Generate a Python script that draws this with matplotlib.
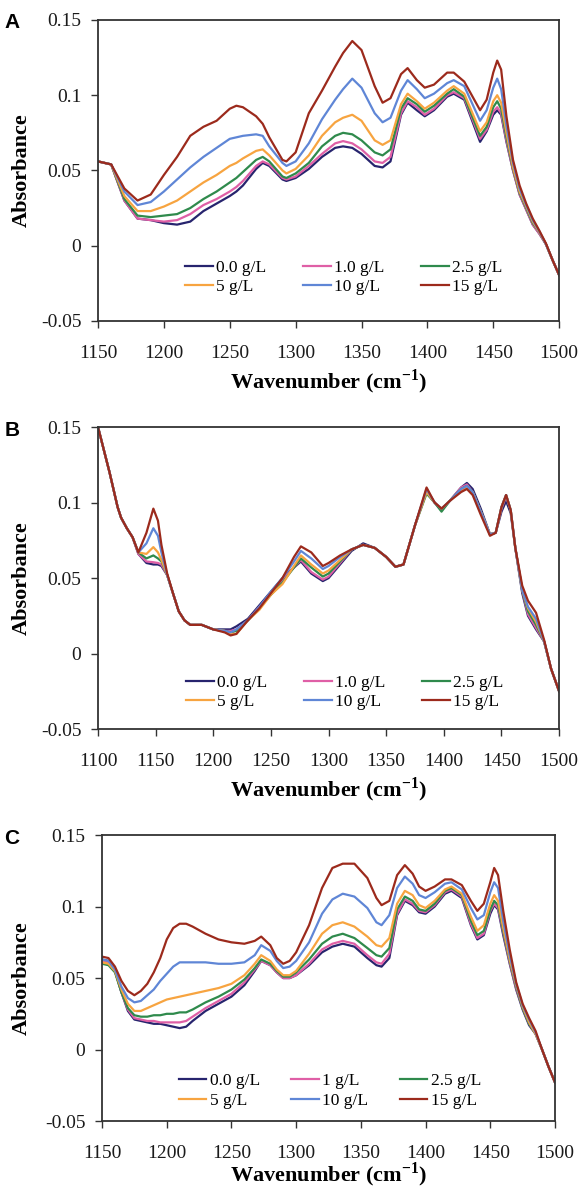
import numpy as np
import matplotlib
matplotlib.use('Agg')
import matplotlib.pyplot as plt

plt.rcParams['font.family'] = 'Liberation Serif'
plt.rcParams['mathtext.fontset'] = 'custom'
plt.rcParams['mathtext.rm'] = 'Liberation Serif:bold'
plt.rcParams['mathtext.bf'] = 'Liberation Serif:bold'

COLORS = ['#27246e', '#df5fa6', '#2f8a4c', '#f7a440', '#5f86d6', '#9c2a1c']

# ---- panel A ----
labels_a = ['0.0 g/L', '1.0 g/L', '2.5 g/L', '5 g/L', '10 g/L', '15 g/L']
wn_a = [1150, 1160, 1170, 1180, 1190, 1200, 1210, 1220, 1230, 1240, 1250, 1255, 1260, 1270, 1275,
        1280, 1290, 1293, 1300, 1310, 1320, 1330, 1336, 1343, 1350, 1360, 1366, 1372, 1380, 1385,
        1392, 1398, 1405, 1415, 1420, 1428, 1440, 1445, 1450, 1453, 1456, 1460, 1465, 1470, 1475,
        1480, 1485, 1490, 1495, 1500]
a_00 = [.056, .054, .030, .018, .017, .015, .014, .016, .023, .028, .033, .036, .040, .051, .055,
        .053, .044, .043, .045, .051, .059, .065, .066, .065, .061, .053, .052, .056, .087, .095,
        .090, .086, .090, .099, .101, .097, .069, .076, .087, .090, .087, .069, .050, .034, .024,
        .014, .008, .001, -.0095, -.0195]
a_10 = [.056, .054, .030, .018, .017, .016, .017, .021, .027, .031, .036, .039, .043, .053, .056,
        .054, .045, .044, .046, .053, .061, .068, .0695, .068, .064, .056, .055, .059, .088, .096,
        .092, .087, .091, .100, .102, .098, .071, .077, .089, .092, .088, .070, .050, .034, .024,
        .014, .008, .001, -.0095, -.0195]
a_25 = [.056, .054, .031, .020, .019, .020, .021, .025, .031, .036, .042, .045, .049, .057, .059,
        .056, .046, .045, .048, .055, .066, .073, .075, .074, .070, .062, .060, .064, .091, .098,
        .094, .089, .093, .101, .104, .099, .073, .079, .092, .096, .091, .072, .051, .035, .025,
        .015, .009, .001, -.0095, -.0195]
a_5 = [.056, .054, .033, .023, .023, .026, .030, .036, .042, .047, .053, .055, .058, .063, .064,
       .060, .050, .048, .051, .060, .073, .082, .085, .087, .083, .070, .067, .070, .094, .101,
       .096, .091, .095, .103, .106, .101, .076, .082, .096, .100, .095, .075, .052, .036, .026,
       .016, .009, .001, -.0095, -.0195]
a_10g = [.056, .054, .036, .027, .029, .036, .044, .052, .059, .065, .071, .072, .073, .074, .073,
         .066, .055, .053, .056, .068, .084, .097, .104, .111, .105, .088, .082, .085, .103, .110,
         .104, .098, .101, .108, .110, .106, .083, .090, .105, .111, .104, .080, .055, .038, .027,
         .017, .0095, .001, -.0095, -.0195]
a_15 = [.056, .054, .038, .030, .034, .047, .059, .073, .079, .083, .091, .093, .092, .086, .081,
        .072, .057, .056, .062, .088, .103, .119, .128, .136, .130, .106, .095, .098, .114, .118,
        .110, .105, .107, .115, .115, .109, .090, .097, .115, .123, .117, .086, .057, .040, .028,
        .018, .010, .0015, -.0095, -.0195]

# ---- panel B ----
labels_b = ['0.0 g/L', '1.0 g/L', '2.5 g/L', '5 g/L', '10 g/L', '15 g/L']
wn_b = [1100, 1105, 1110, 1117, 1120, 1125, 1130, 1135, 1142, 1148, 1152, 1155, 1160, 1165, 1170,
        1175, 1180, 1190, 1200, 1210, 1215, 1220, 1230, 1240, 1250, 1260, 1270, 1276, 1285, 1295,
        1300, 1310, 1320, 1330, 1340, 1350, 1358, 1365, 1375, 1385, 1392, 1398, 1405, 1415, 1420,
        1425, 1432, 1440, 1445, 1450, 1454, 1458, 1462, 1468, 1473, 1480, 1487, 1493, 1500]
b_00 = [.150, .135, .120, .097, .090, .083, .077, .066, .060, .059, .059, .058, .052, .040, .028,
        .022, .019, .019, .016, .016, .016, .018, .023, .032, .041, .050, .057, .061, .053, .048,
        .050, .059, .068, .073, .070, .064, .0575, .059, .085, .108, .100, .095, .101, .110, .113,
        .109, .096, .079, .080, .094, .101, .093, .070, .040, .025, .016, .008, -.010, -.025]
b_10 = [.150, .135, .120, .097, .090, .083, .077, .066, .061, .0605, .060, .059, .052, .040, .028,
        .022, .019, .019, .016, .015, .015, .016, .022, .031, .039, .049, .057, .062, .054, .049,
        .051, .060, .069, .072, .070, .064, .0575, .059, .085, .107, .100, .096, .101, .110, .112,
        .107, .094, .079, .080, .096, .104, .095, .070, .042, .026, .017, .008, -.010, -.025]
b_25 = [.150, .135, .120, .097, .090, .083, .077, .067, .063, .065, .063, .061, .052, .040, .028,
        .022, .019, .019, .016, .015, .014, .015, .022, .030, .039, .047, .057, .063, .057, .051,
        .053, .061, .069, .072, .070, .064, .0575, .059, .085, .106, .100, .094, .101, .109, .111,
        .107, .094, .079, .080, .097, .105, .095, .070, .042, .028, .019, .008, -.010, -.025]
b_5 = [.150, .135, .120, .097, .090, .083, .077, .067, .066, .0705, .067, .062, .052, .040, .028,
       .022, .019, .019, .016, .015, .013, .013, .022, .029, .039, .046, .058, .065, .059, .053,
       .055, .062, .069, .072, .070, .064, .0575, .059, .085, .107, .100, .096, .101, .108, .110,
       .107, .094, .079, .080, .097, .105, .095, .070, .042, .030, .021, .008, -.010, -.025]
b_10g = [.150, .135, .120, .097, .090, .083, .077, .067, .073, .083, .078, .067, .052, .040, .028,
         .022, .019, .019, .016, .015, .014, .016, .022, .031, .041, .050, .061, .068, .063, .056,
         .058, .064, .069, .072, .070, .064, .0575, .059, .085, .109, .100, .096, .101, .109, .111,
         .107, .094, .079, .080, .097, .105, .095, .070, .042, .031, .023, .008, -.010, -.025]
b_15 = [.150, .135, .120, .097, .090, .083, .077, .067, .080, .096, .088, .072, .053, .040, .028,
        .022, .019, .019, .016, .014, .012, .013, .022, .030, .040, .050, .064, .071, .067, .058,
        .060, .065, .069, .072, .070, .064, .0575, .059, .085, .110, .100, .096, .101, .107, .109,
        .105, .092, .078, .080, .097, .105, .095, .070, .045, .035, .027, .009, -.010, -.025]

# ---- panel C ----
labels_c = ['0.0 g/L', '1 g/L', '2.5 g/L', '5 g/L', '10 g/L', '15 g/L']
wn_c = [1150, 1155, 1160, 1165, 1170, 1175, 1180, 1185, 1190, 1195, 1200, 1205, 1210, 1215, 1220,
        1230, 1240, 1250, 1260, 1268, 1273, 1280, 1285, 1290, 1295, 1300, 1310, 1320, 1328, 1336,
        1345, 1355, 1362, 1366, 1372, 1378, 1384, 1390, 1395, 1400, 1407, 1415, 1420, 1428, 1435,
        1440, 1445, 1450, 1453, 1456, 1460, 1465, 1470, 1475, 1480, 1485, 1490, 1495, 1500]
c_00 = [.063, .062, .055, .040, .027, .021, .020, .019, .018, .018, .017, .016, .015, .016, .020,
        .027, .032, .037, .045, .055, .062, .059, .054, .050, .050, .052, .059, .068, .072, .074,
        .072, .064, .059, .058, .064, .094, .104, .101, .096, .095, .100, .109, .111, .106, .087,
        .077, .080, .095, .101, .098, .080, .060, .042, .028, .017, .011, .000, -.012, -.023]
c_1 = [.062, .061, .055, .040, .028, .022, .021, .020, .020, .019, .019, .019, .019, .020, .023,
       .029, .034, .039, .047, .056, .062, .059, .054, .050, .050, .052, .060, .070, .074, .076,
       .074, .066, .061, .060, .067, .095, .105, .102, .097, .096, .101, .110, .112, .107, .088,
       .078, .081, .097, .102, .099, .082, .061, .043, .029, .018, .011, .000, -.012, -.023]
c_25 = [.060, .059, .054, .040, .029, .024, .023, .023, .024, .024, .025, .025, .026, .026, .028,
        .033, .037, .042, .049, .057, .063, .060, .055, .051, .051, .054, .063, .074, .079, .081,
        .078, .071, .066, .065, .071, .098, .107, .104, .098, .097, .102, .111, .113, .108, .090,
        .080, .083, .098, .104, .101, .083, .062, .044, .029, .018, .011, .000, -.012, -.023]
c_5 = [.061, .060, .055, .042, .032, .027, .027, .029, .031, .033, .035, .036, .037, .038, .039,
       .041, .043, .046, .052, .060, .066, .062, .056, .052, .052, .055, .067, .081, .087, .089,
       .086, .079, .073, .072, .078, .102, .111, .108, .101, .099, .104, .112, .114, .109, .093,
       .083, .087, .102, .108, .104, .085, .063, .045, .030, .019, .011, .000, -.012, -.023]
c_10 = [.063, .062, .056, .044, .036, .033, .034, .038, .042, .048, .053, .058, .061, .061, .061,
        .061, .060, .060, .061, .066, .073, .069, .062, .057, .058, .062, .075, .095, .105, .109,
        .107, .099, .089, .087, .094, .113, .121, .116, .108, .106, .110, .116, .117, .112, .099,
        .091, .094, .110, .117, .113, .090, .066, .046, .031, .021, .012, .000, -.012, -.023]
c_15 = [.065, .064, .058, .048, .041, .038, .041, .046, .054, .064, .077, .085, .088, .088, .086,
        .081, .077, .075, .074, .076, .079, .073, .064, .060, .062, .068, .087, .113, .127, .130,
        .130, .120, .106, .101, .104, .122, .129, .123, .114, .111, .114, .119, .119, .115, .104,
        .097, .102, .117, .127, .122, .097, .070, .047, .032, .022, .013, .000, -.012, -.023]

panels = [
    ('A', wn_a, [a_00, a_10, a_25, a_5, a_10g, a_15], labels_a, (1150, 1500),
     [0.169, 0.7312, 0.795, 0.2521], (0.533, 0.1445), 2.1, 61),
    ('B', wn_b, [b_00, b_10, b_25, b_5, b_10g, b_15], labels_b, (1100, 1500),
     [0.169, 0.3894, 0.795, 0.2529], (0.535, 0.121), 2.1, 61),
    ('C', wn_c, [c_00, c_1, c_25, c_5, c_10, c_15], labels_c, (1150, 1500),
     [0.1759, 0.0611, 0.781, 0.2395], (0.503, 0.105), 1.8, 54),
]

fig = plt.figure(figsize=(5.8, 11.94), dpi=100)

for letter, wn, series, labs, xlim, rect, legpos, colsp, xl_off in panels:
    ax = fig.add_axes(rect)
    handles = []
    for ys, lab, col in zip(series, labs, COLORS):
        h, = ax.plot(wn, ys, color=col, lw=1.6, label=lab)
        handles.append(h)
    ax.set_xlim(*xlim)
    ax.set_ylim(-0.05, 0.15)
    ax.set_xticks(np.arange(xlim[0], xlim[1] + 1, 50))
    ax.set_yticks([-0.05, 0, 0.05, 0.1, 0.15])
    ax.set_yticklabels(['-0.05', '0', '0.05', '0.1', '0.15'])
    ax.tick_params(axis='both', direction='out', length=5, width=1, colors='#333333',
                   labelsize=14, labelcolor='#1a1a1a')
    ax.tick_params(axis='x', pad=12)
    ax.tick_params(axis='y', pad=7)
    for sp in ax.spines.values():
        sp.set_linewidth(1.3)
        sp.set_color('#333333')

    ax.set_xlabel(r'Wavenumber (cm$^{\mathbf{-1}}$)', fontsize=16, fontweight='bold', va='center')
    ax.set_ylabel('Absorbance', fontsize=16, fontweight='bold', va='center')
    x0 = rect[0] * 580
    w = rect[2] * 580
    h_px = rect[3] * 1194
    ax.yaxis.set_label_coords((22 - x0) / w, 0.5)
    ax.xaxis.set_label_coords(0.5, -xl_off / h_px)

    # row-major legend order (3 columns)
    order = [0, 3, 1, 4, 2, 5]
    ax.legend([handles[i] for i in order], [labs[i] for i in order], ncol=3, frameon=False,
              loc='center', bbox_to_anchor=legpos, fontsize=12.5, handlelength=1.6,
              handletextpad=0.2, columnspacing=colsp, labelspacing=0.2, borderpad=0)

    top_px = 1194 - (rect[1] + rect[3]) * 1194
    fig.text(12 / 580, 1 - (top_px + 3) / 1194, letter, fontsize=15, fontweight='bold',
             family='Liberation Sans', ha='center', va='center')

fig.savefig('out.png', dpi=100)
